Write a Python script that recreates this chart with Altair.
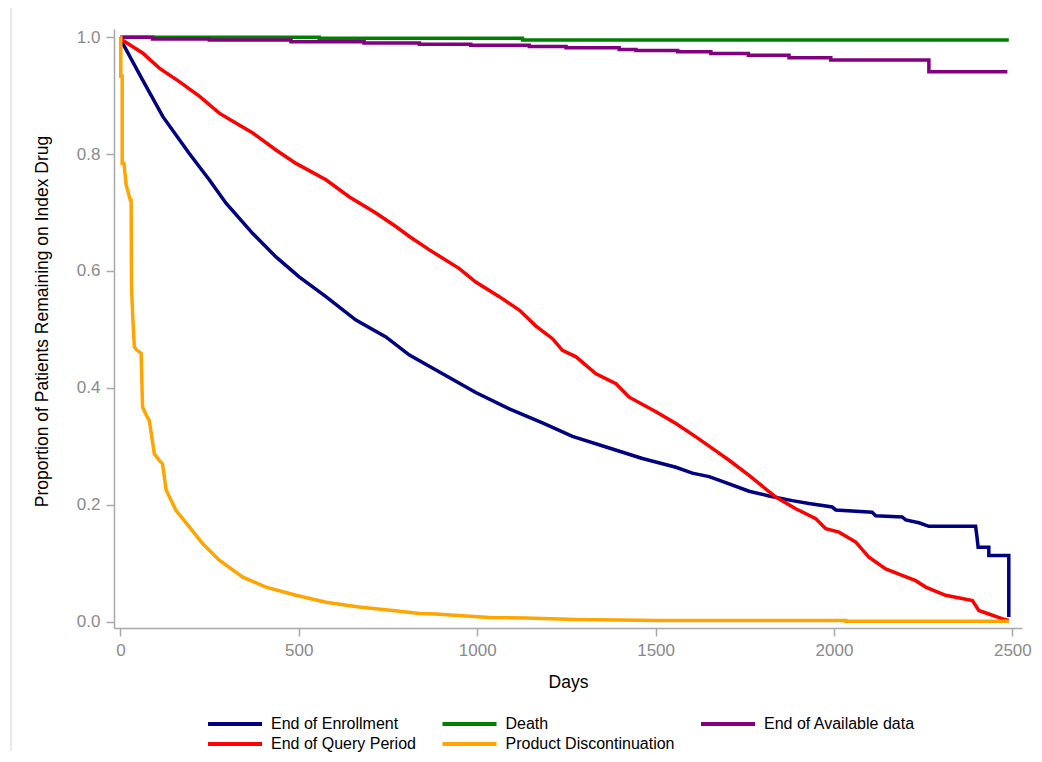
import altair as alt
import pandas as pd

# ---- data (days, proportion remaining) ----
enroll_days = [0, 6, 62, 119, 193, 249, 296, 371, 436, 501, 576, 660, 744, 810, 903, 996,
               1090, 1183, 1267, 1370, 1463, 1557, 1603, 1650, 1687, 1762, 1818, 1883, 1930,
               1995, 2005, 2107, 2117, 2191, 2201, 2238, 2266, 2397, 2401, 2404, 2434, 2434,
               2490, 2490]
enroll_surv = [1.0, 0.99, 0.927, 0.864, 0.801, 0.756, 0.716, 0.664, 0.624, 0.590, 0.556, 0.516,
               0.487, 0.456, 0.424, 0.392, 0.364, 0.340, 0.317, 0.297, 0.279, 0.264, 0.254, 0.248,
               0.240, 0.223, 0.215, 0.207, 0.202, 0.196, 0.191, 0.187, 0.181, 0.179, 0.174, 0.169,
               0.163, 0.163, 0.144, 0.127, 0.127, 0.113, 0.113, 0.008]

query_days = [0, 5, 62, 109, 165, 221, 277, 315, 371, 436, 492, 576, 641, 716, 772, 810, 866,
              950, 996, 1062, 1118, 1164, 1211, 1239, 1277, 1333, 1389, 1426, 1501, 1557, 1613,
              1669, 1706, 1762, 1837, 1893, 1949, 1977, 2014, 2061, 2098, 2145, 2191, 2229, 2257,
              2313, 2388, 2406, 2434, 2471, 2490]
query_surv = [1.0, 0.995, 0.973, 0.947, 0.924, 0.899, 0.870, 0.856, 0.836, 0.807, 0.784, 0.756,
              0.727, 0.699, 0.676, 0.659, 0.636, 0.604, 0.581, 0.556, 0.533, 0.506, 0.484, 0.464,
              0.453, 0.424, 0.407, 0.384, 0.359, 0.339, 0.316, 0.292, 0.276, 0.250, 0.213, 0.193,
              0.176, 0.159, 0.153, 0.136, 0.110, 0.090, 0.079, 0.070, 0.059, 0.045, 0.036, 0.019,
              0.013, 0.005, 0.002]

disc_days = [0, 1, 1, 5, 5, 10, 16, 28, 30, 31, 35, 39, 45, 58, 62, 75, 81, 95, 110, 118, 128,
             156, 193, 231, 277, 343, 408, 492, 576, 669, 763, 838, 884, 959, 1034, 1136, 1277,
             1510, 2033, 2033, 2490]
disc_surv = [1.0, 1.0, 0.933, 0.933, 0.784, 0.784, 0.747, 0.721, 0.721, 0.573, 0.516, 0.470,
             0.465, 0.459, 0.367, 0.350, 0.344, 0.287, 0.275, 0.270, 0.225, 0.190, 0.162, 0.133,
             0.105, 0.076, 0.059, 0.045, 0.033, 0.025, 0.019, 0.014, 0.013, 0.010, 0.007, 0.006,
             0.0035, 0.002, 0.002, 0.0005, 0.0005]

avail_days = [0, 90, 90, 249, 249, 478, 478, 683, 683, 838, 838, 982, 982, 1146, 1146, 1249,
              1249, 1398, 1398, 1445, 1445, 1562, 1562, 1655, 1655, 1760, 1760, 1874, 1874, 1991,
              1991, 2266, 2266, 2486]
avail_surv = [1.0, 1.0, 0.997, 0.997, 0.995, 0.995, 0.992, 0.992, 0.990, 0.990, 0.988, 0.988,
              0.986, 0.986, 0.984, 0.984, 0.982, 0.982, 0.979, 0.979, 0.977, 0.977, 0.975, 0.975,
              0.972, 0.972, 0.969, 0.969, 0.965, 0.965, 0.961, 0.961, 0.941, 0.941]

death_days = [0, 557, 557, 1127, 1127, 2490]
death_surv = [1.0, 1.0, 0.998, 0.998, 0.995, 0.995]

legend_order = ["End of Enrollment", "Death", "End of Available data",
                "End of Query Period", "Product Discontinuation"]
colors = ["#000080", "#008000", "#800080", "#FF0000", "#FFA500"]

x_ticks = [0, 500, 1000, 1500, 2000, 2500]
y_ticks = [0.0, 0.2, 0.4, 0.6, 0.8, 1.0]

series = [
    ("Death", death_days, death_surv),
    ("End of Available data", avail_days, avail_surv),
    ("End of Enrollment", enroll_days, enroll_surv),
    ("End of Query Period", query_days, query_surv),
    ("Product Discontinuation", disc_days, disc_surv),
]
rows = []
for name, d, s in series:
    for i, (dd, ss) in enumerate(zip(d, s)):
        rows.append({"series": name, "day": dd, "surv": ss, "idx": i})
df = pd.DataFrame(rows)

FONT = "Liberation Sans"

lines = alt.Chart(df).mark_line(strokeWidth=3.5, strokeJoin="miter").encode(
    x=alt.X("day:Q",
            scale=alt.Scale(domain=[-18, 2527], nice=False, zero=False),
            axis=alt.Axis(title="Days", values=x_ticks, format="d", grid=False,
                          tickSize=8, labelPadding=6, titlePadding=15)),
    y=alt.Y("surv:Q",
            scale=alt.Scale(domain=[-0.011, 1.014], nice=False, zero=False),
            axis=alt.Axis(title="Proportion of Patients Remaining on Index Drug",
                          values=y_ticks, format=".1f", grid=False,
                          tickSize=8, labelPadding=6, titlePadding=25, titleY=292)),
    color=alt.Color("series:N",
                    scale=alt.Scale(domain=legend_order, range=colors),
                    legend=alt.Legend(title=None, orient="none", direction="horizontal",
                                      columns=3, legendX=113, legendY=687,
                                      symbolType="M-5.4,0H5.4", symbolSize=100,
                                      symbolStrokeWidth=4, labelFontSize=16,
                                      labelColor="#000000", labelFont=FONT, labelLimit=400,
                                      labelOffset=28, columnPadding=18.5, rowPadding=4,
                                      padding=0)),
    detail="series:N",
    order=alt.Order("idx:Q"),
)

border_df = pd.DataFrame({"k": [0]})
border = alt.Chart(border_df).mark_rule(color="#d4d4d4", strokeWidth=1).encode(
    x=alt.value(-103), y=alt.value(-21), y2=alt.value(722)
)

chart = alt.layer(border, lines).properties(
    width=908, height=599,
    padding={"left": 106, "top": 21, "right": 12, "bottom": 125},
    autosize=alt.AutoSizeParams(type="none"),
).configure_view(stroke=None).configure_axis(
    domainColor="#a8a8a8", tickColor="#a8a8a8", labelColor="#8a8a8a",
    labelFontSize=17, labelFont=FONT, titleFont=FONT, titleFontSize=17.5,
    titleFontWeight="normal", titleColor="#000000", domainWidth=1.5, tickWidth=1.5,
)

chart.save("out.html", embed_options={"renderer": "svg", "actions": False})
